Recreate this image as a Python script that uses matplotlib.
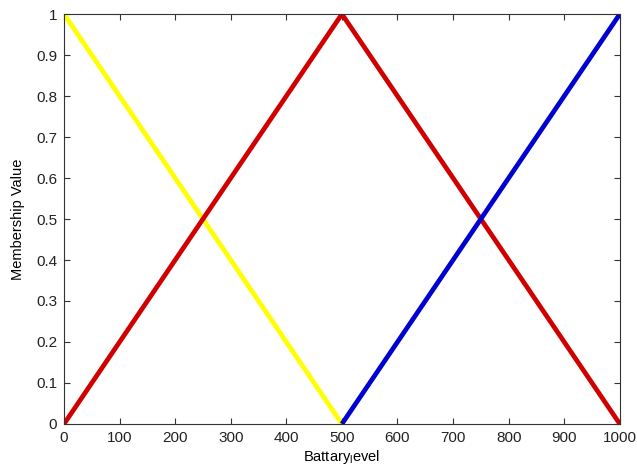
import matplotlib
matplotlib.use("Agg")
import matplotlib.pyplot as plt

plt.rcParams.update({
    "font.family": ["Liberation Sans", "DejaVu Sans"],
    "font.size": 10,
    "mathtext.fontset": "custom",
    "mathtext.rm": "Liberation Sans",
})

# membership functions for battery level (triangular MFs)
low_x = [0, 500]
low_y = [1, 0]
mid_x = [0, 500, 1000]
mid_y = [0, 1, 0]
high_x = [500, 1000]
high_y = [0, 1]

x_ticks = [0, 100, 200, 300, 400, 500, 600, 700, 800, 900, 1000]
y_ticks = [0, 0.1, 0.2, 0.3, 0.4, 0.5, 0.6, 0.7, 0.8, 0.9, 1]

fig = plt.figure(figsize=(6.37, 4.70), dpi=100)
ax = fig.add_axes([0.1005, 0.098, 0.8725, 0.872])

ax.plot(low_x, low_y, color="#ffff00", linewidth=3.4, solid_capstyle="butt")
ax.plot(mid_x, mid_y, color="#d00000", linewidth=3.4, solid_capstyle="butt")
ax.plot(high_x, high_y, color="#0000d0", linewidth=3.4, solid_capstyle="butt")

ax.set_xlim(0, 1000)
ax.set_ylim(0, 1)
ax.set_xticks(x_ticks)
ax.set_xticklabels([str(v) for v in x_ticks])
ax.set_yticks(y_ticks)
ax.set_yticklabels([f"{v:g}" for v in y_ticks])
ax.tick_params(direction="in", length=4, width=0.8, top=True, right=True,
               labelsize=11, colors="#333333", labelcolor="#222222", pad=5)
for s in ax.spines.values():
    s.set_linewidth(0.8)
    s.set_color("#333333")

ax.set_xlabel(r"Battary$_\mathrm{l}$evel", fontsize=10.5, labelpad=2)
ax.set_ylabel("Membership Value", fontsize=10.5, labelpad=8)

fig.savefig("out.png", dpi=100)
